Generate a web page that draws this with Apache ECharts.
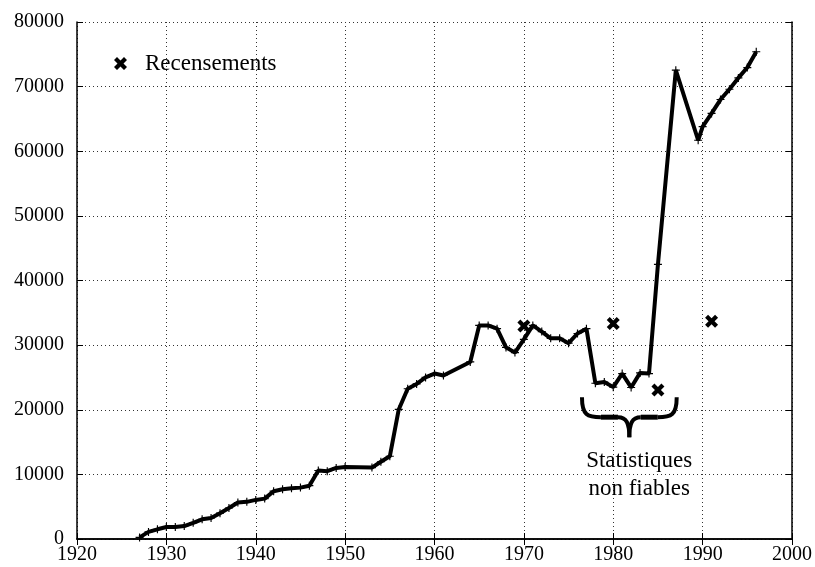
<!DOCTYPE html>
<html>
<head>
<meta charset="utf-8">
<script src="https://cdn.jsdelivr.net/npm/echarts@6/dist/echarts.min.js"></script>
<style>
  html, body { margin: 0; padding: 0; background: #fff; }
  #main { width: 815px; height: 567px; }
</style>
</head>
<body>
<div id="main"></div>
<script>
// population series (yearly estimates)
const years = [1927, 1928, 1929, 1930, 1931, 1932, 1933, 1934, 1935, 1936, 1937, 1938, 1939,
  1940, 1941, 1942, 1943, 1944, 1945, 1946, 1947, 1948, 1949, 1950, 1953, 1954, 1955,
  1956, 1957, 1958, 1959, 1960, 1961, 1964, 1965, 1966, 1967, 1968, 1969, 1970, 1971,
  1972, 1973, 1974, 1975, 1976, 1977, 1978, 1979, 1980, 1981, 1982, 1983, 1984, 1985,
  1987, 1989.5, 1990, 1991, 1992, 1993, 1994, 1995, 1996]
const values = [250, 1100, 1500, 1850, 1850, 2000, 2500, 3050, 3250, 4000, 4800, 5650, 5750,
  6050, 6250, 7400, 7700, 7850, 7950, 8250, 10600, 10500, 11000, 11150, 11050, 11950, 12800,
  20050, 23250, 24000, 25000, 25600, 25300, 27400, 33050, 33050, 32550, 29650, 28850, 30900, 33050,
  32100, 31050, 31050, 30300, 31800, 32550, 24100, 24300, 23500, 25600, 23450, 25700, 25600, 42500,
  72550, 61700, 63800, 65850, 68000, 69600, 71350, 72950, 75400]

// census counts
const censusYears = [1970, 1980, 1985, 1991]
const censusValues = [32950, 33350, 23050, 33700]

const yearTicks = [1920, 1930, 1940, 1950, 1960, 1970, 1980, 1990, 2000]

const serif = '"Liberation Serif", "DejaVu Serif", serif'
const crossPath = 'path://M0,3 L3,0 L6.5,3.5 L10,0 L13,3 L9.5,6.5 L13,10 L10,13 L6.5,9.5 L3,13 L0,10 L3.5,6.5 Z'
const plusPath = 'path://M3,0 L4,0 L4,3 L7,3 L7,4 L4,4 L4,7 L3,7 L3,4 L0,4 L0,3 L3,3 Z'

const dotted = { show: true, lineStyle: { color: '#333', type: [1, 3], width: 1 } }
const frameAxis = {
  axisLine: { show: true, lineStyle: { color: '#000', width: 1.5 } },
  axisTick: { show: true, inside: true, length: 6, lineStyle: { color: '#000' } }
}

const chart = echarts.init(document.getElementById('main'))
chart.setOption({
  animation: false,
  backgroundColor: '#fff',
  grid: { left: 77, right: 21, top: 22, bottom: 28, containLabel: false },
  legend: {
    left: 109, top: 47,
    data: [{ name: 'Recensements', icon: crossPath, itemStyle: { color: '#000', opacity: 1 } }],
    itemWidth: 13, itemHeight: 13,
    textStyle: { fontFamily: serif, fontSize: 23, color: '#000', padding: [0, 0, 0, 13] }
  },
  xAxis: [
    Object.assign({
      type: 'value', min: yearTicks[0], max: yearTicks[yearTicks.length - 1], interval: 10,
      axisLabel: { fontFamily: serif, fontSize: 20, color: '#000', margin: 6, formatter: v => String(v) },
      splitLine: dotted
    }, frameAxis),
    Object.assign({
      type: 'value', position: 'top', min: yearTicks[0], max: yearTicks[yearTicks.length - 1], interval: 10,
      axisLabel: { show: false }, splitLine: { show: false }
    }, frameAxis)
  ],
  yAxis: [
    Object.assign({
      type: 'value', min: 0, max: 80000, interval: 10000,
      axisLabel: { fontFamily: serif, fontSize: 20, color: '#000', margin: 13, formatter: v => String(v) },
      splitLine: dotted
    }, frameAxis),
    Object.assign({
      type: 'value', position: 'right', min: 0, max: 80000, interval: 10000,
      axisLabel: { show: false }, splitLine: { show: false }
    }, frameAxis)
  ],
  series: [
    {
      name: 'Population', type: 'line',
      data: years.map((y, i) => [y, values[i]]),
      lineStyle: { color: '#000', width: 4 },
      itemStyle: { color: '#000' },
      symbol: plusPath, symbolSize: 8, showSymbol: true
    },
    {
      name: 'Recensements', type: 'scatter',
      data: censusYears.map((y, i) => [y, censusValues[i]]),
      symbol: crossPath, symbolSize: 13,
      itemStyle: { color: '#000', opacity: 1 }, z: 5
    }
  ]
})

// brace + note for the unreliable period
const p0 = chart.convertToPixel({ gridIndex: 0 }, [1976.5, 21950])
const p1 = chart.convertToPixel({ gridIndex: 0 }, [1987.1, 15750])
const x0 = p0[0], y0 = p0[1]
const w = p1[0] - x0, h = p1[1] - y0, m = x0 + w / 2, ym = y0 + h / 2
const braceStyle = { stroke: '#000', lineWidth: 5, fill: null }
const tipStyle = { stroke: '#000', lineWidth: 4, fill: null }
const tc = chart.convertToPixel({ gridIndex: 0 }, [1982.9, 9900])
chart.setOption({
  graphic: [
    { type: 'bezierCurve', shape: { x1: x0, y1: y0, cpx1: x0, cpy1: y0 + h * 0.45, cpx2: x0 + w * 0.06, cpy2: ym, x2: x0 + w * 0.2, y2: ym }, style: tipStyle },
    { type: 'line', shape: { x1: x0 + w * 0.2, y1: ym, x2: m - w * 0.12, y2: ym }, style: braceStyle },
    { type: 'bezierCurve', shape: { x1: m - w * 0.12, y1: ym, cpx1: m - w * 0.03, cpy1: ym, cpx2: m, cpy2: ym + h * 0.15, x2: m, y2: y0 + h }, style: tipStyle },
    { type: 'bezierCurve', shape: { x1: m, y1: y0 + h, cpx1: m, cpy1: ym + h * 0.15, cpx2: m + w * 0.03, cpy2: ym, x2: m + w * 0.12, y2: ym }, style: tipStyle },
    { type: 'line', shape: { x1: m + w * 0.12, y1: ym, x2: x0 + w * 0.8, y2: ym }, style: braceStyle },
    { type: 'bezierCurve', shape: { x1: x0 + w * 0.8, y1: ym, cpx1: x0 + w * 0.94, cpy1: ym, cpx2: x0 + w, cpy2: y0 + h * 0.45, x2: x0 + w, y2: y0 }, style: tipStyle },
    {
      type: 'text', x: tc[0], y: tc[1],
      style: {
        text: 'Statistiques\nnon fiables', font: '23px ' + serif,
        fill: '#000', align: 'center', verticalAlign: 'middle', lineHeight: 28
      }
    }
  ]
})
</script>
</body>
</html>
